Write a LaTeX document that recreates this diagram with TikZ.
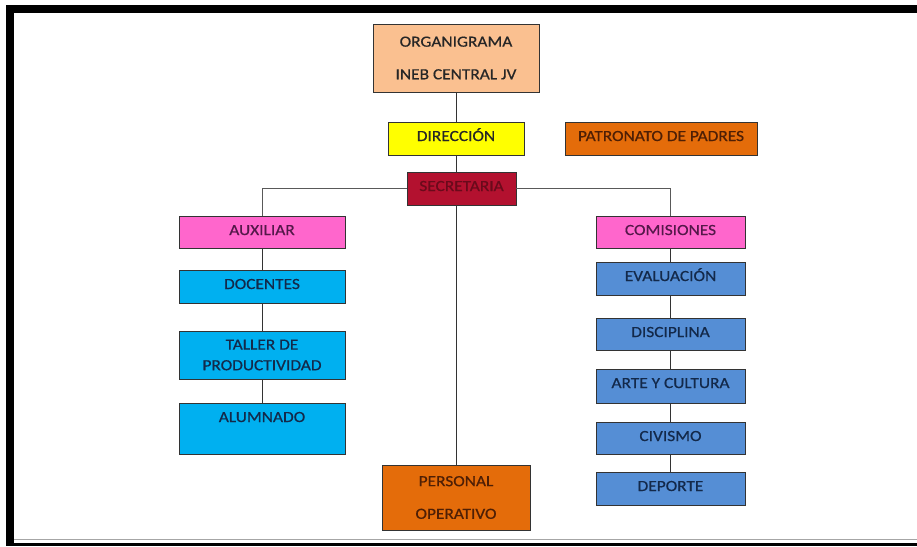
\documentclass[tikz,border=0pt]{standalone}
\usepackage{fontspec}
\setmainfont{Carlito}[FakeStretch=1.12, FakeBold=0.6]
\usepackage{tikz}
\usetikzlibrary{positioning}

\definecolor{peach}{HTML}{FAC090}
\definecolor{yellowbox}{HTML}{FFFF00}
\definecolor{orangebox}{HTML}{E46C0A}
\definecolor{crimson}{HTML}{B3112F}
\definecolor{pinkbox}{HTML}{FF66CC}
\definecolor{cyanbox}{HTML}{00B0F0}
\definecolor{bluebox}{HTML}{558ED5}
\definecolor{navytext}{HTML}{13294A}
\definecolor{browntext}{HTML}{4E1F05}
\definecolor{redtext}{HTML}{6A0A1B}
\definecolor{purpletext}{HTML}{55184A}

\begin{document}
\begin{tikzpicture}[
  x=1pt, y=-1pt,
  font=\fontsize{15.5}{18.6}\selectfont,
  box/.style={draw=black!80, line width=0.9pt, inner sep=0pt, outer sep=0pt,
              anchor=north, align=center},
  row/.style={text height=19pt, text depth=#1},
  head/.style ={box, fill=peach, text=black!85},
  mgmt/.style ={box, fill=yellowbox, text=black!85},
  sec/.style  ={box, fill=crimson, text=redtext},
  orng/.style ={box, fill=orangebox, text=browntext},
  pink/.style ={box, fill=pinkbox, text=purpletext},
  left/.style ={box, fill=cyanbox, text=navytext, minimum width=166pt},
  right/.style={box, fill=bluebox, text=navytext, minimum width=149pt},
  link/.style ={draw=black!80, line width=0.9pt},
]
\useasboundingbox (0,0) rectangle (917,546);

% frame
\fill[black] (6,5) rectangle (917,13);
\fill[black] (6,5) rectangle (14,546);
\fill[black] (6,543) rectangle (917,546);
\draw[black!35, line width=1pt] (14,539.5) -- (917,539.5);

% top
\node[head, minimum width=166pt, minimum height=68pt] (org) at (456,24)
  {ORGANIGRAMA\\[14pt]INEB CENTRAL JV};
\node[mgmt, row=14pt, minimum width=136pt, below=30pt of org] (dir) {DIRECCIÓN};
\node[orng, row=14pt, minimum width=192pt] (pat) at (661,122) {PATRONATO DE PADRES};
\node[sec, row=14pt, minimum width=109pt] (secr) at (461.5,172) {SECRETARIA};

% left column
\node[pink, row=13pt, minimum width=166pt] (aux) at (262,216) {AUXILIAR};
\node[left, row=14pt, below=22pt of aux] (doc) {DOCENTES};
\node[left, minimum height=48pt, below=28pt of doc] (tal)
  {TALLER DE\\[2pt]PRODUCTIVIDAD};
\node[left, row=32pt, below=24pt of tal] (alu) {ALUMNADO};

% right column
\node[pink, row=13pt, minimum width=149pt] (com) at (670.5,216) {COMISIONES};
\node[right, row=14pt, below=14pt of com] (eva) {EVALUACIÓN};
\node[right, row=13pt, below=23pt of eva] (dis) {DISCIPLINA};
\node[right, row=15pt, below=19pt of dis] (art) {ARTE Y CULTURA};
\node[right, row=13pt, below=19pt of art] (civ) {CIVISMO};
\node[right, row=14pt, below=18pt of civ] (dep) {DEPORTE};

% bottom
\node[orng, minimum width=148pt, minimum height=65pt] (pers) at (456,465)
  {PERSONAL\\[14pt]OPERATIVO};

% connectors
\draw[link] (org) -- (dir);
\draw[link] (dir.south) -- (dir.south |- secr.north);
\draw[link] (secr.south -| dir.south) -- (pers);
\draw[link, draw=black!65] (secr.west) -| (aux.north);
\draw[link, draw=black!65] (secr.east) -| (com.north);
\draw[link] (aux) -- (doc) -- (tal) -- (alu);
\draw[link] (com) -- (eva) -- (dis) -- (art) -- (civ) -- (dep);

\end{tikzpicture}
\end{document}
